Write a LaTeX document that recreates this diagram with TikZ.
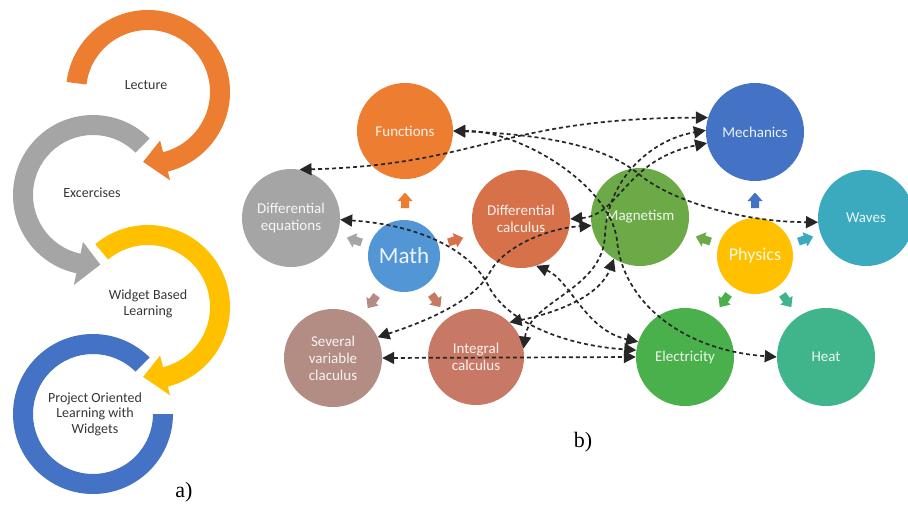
\documentclass[tikz,border=0pt]{standalone}
\usepackage{fontspec}
\setmainfont{Carlito}
\newfontfamily\panelfont{Liberation Serif}
\usetikzlibrary{arrows.meta,calc}

\definecolor{cOrange}{RGB}{237,125,49}
\definecolor{cGray}{RGB}{165,165,165}
\definecolor{cYellow}{RGB}{255,192,0}
\definecolor{cBlue}{RGB}{68,114,196}
\definecolor{cMath}{RGB}{83,150,214}
\definecolor{cDcal}{RGB}{214,113,74}
\definecolor{cSev}{RGB}{179,140,132}
\definecolor{cInt}{RGB}{200,121,102}
\definecolor{cMag}{RGB}{108,170,72}
\definecolor{cWav}{RGB}{60,170,190}
\definecolor{cEle}{RGB}{74,176,76}
\definecolor{cHeat}{RGB}{64,181,140}
\definecolor{cText}{RGB}{55,55,55}

\begin{document}
\begin{tikzpicture}[x=1pt,y=-1pt,
  topic/.style={circle, fill=#1, text=white, text opacity=.9, minimum size=98pt,
    inner sep=0pt, align=center, font=\fontsize{15}{17}\selectfont},
  hub/.style={circle, fill=#1, text=white, text opacity=.9, inner sep=0pt},
  link/.style={line width=1.7pt, dash pattern=on 4pt off 3pt, draw=black!85,
    {Triangle[length=12pt,width=12pt]}-{Triangle[length=12pt,width=12pt]}},
  steptext/.style={text=cText, align=center, font=\fontsize{14}{15.5}\selectfont},
  panel/.style={font=\panelfont\fontsize{22}{24}\selectfont},
  pics/hubarrow/.style={code={\fill[#1] (-4,8) -- (-4,1) -- (-7.5,1) -- (0,-7.5)
    -- (7.5,1) -- (4,1) -- (4,8) -- cycle;}}
]
\fill[white] (0,0) rectangle (908,507);
\useasboundingbox (0,0) rectangle (908,507);

% ---------- a) teaching cycle ----------
\coordinate (oc) at (148,92);
\coordinate (gc) at (93,195);
\coordinate (yc) at (148,307);
\coordinate (bc) at (93,414);

\fill[cOrange] ($(oc)+(-173:82)$) arc[start angle=-173, end angle=76, radius=82]
  -- ($(oc)+(76:91)$) -- ($(oc)+(94:70)$) -- ($(oc)+(76:50)$) -- ($(oc)+(76:62)$)
  arc[start angle=76, end angle=-173, radius=62] -- cycle;
\fill[cGray] ($(gc)+(-45:80)$) arc[start angle=-45, end angle=-258, radius=80]
  -- ($(gc)+(-258:92)$) -- ($(gc)+(-276:70)$) -- ($(gc)+(-258:48)$) -- ($(gc)+(-258:60)$)
  arc[start angle=-258, end angle=-45, radius=60] -- cycle;
\fill[cYellow] ($(yc)+(-130:82)$) arc[start angle=-130, end angle=76, radius=82]
  -- ($(yc)+(76:91)$) -- ($(yc)+(94:70)$) -- ($(yc)+(76:50)$) -- ($(yc)+(76:62)$)
  arc[start angle=76, end angle=-130, radius=62] -- cycle;
\fill[cBlue] ($(bc)+(0:80)$) arc[start angle=0, end angle=315, radius=80]
  -- ($(bc)+(315:60)$) arc[start angle=315, end angle=0, radius=60] -- cycle;

\node[steptext] (lec) at (146,85) {Lecture};
\node[steptext] (exc) at (92,193) {Excercises};
\node[steptext] (wbl) at (148,304) {Widget Based\\Learning};
\node[steptext] (pol) at (95,414) {Project Oriented\\Learning with\\Widgets};
\node[panel] (pa) at (184,492) {a)};

% ---------- b) concept map ----------
\node[topic=cOrange, minimum size=96pt] (fun) at (405,131) {Functions};
\node[topic=cGray] (deq) at (291,218) {Differential\\equations};
\node[hub=cMath, minimum size=72pt, font=\fontsize{23}{26}\selectfont] (math) at (404,256) {Math};
\node[topic=cDcal] (dcal) at (521,219) {Differential\\calculus};
\node[topic=cSev] (sev) at (333,358) {Several\\variable\\claculus};
\node[topic=cInt, minimum size=96pt] (intc) at (476,357) {Integral\\calculus};
\node[topic=cMag] (mag) at (640,217) {Magnetism};
\node[topic=cBlue] (mech) at (755,132) {Mechanics};
\node[topic=cWav, minimum size=96pt] (wav) at (866,218) {Waves};
\node[hub=cYellow, minimum size=76pt, font=\fontsize{18}{20}\selectfont] (phy) at (755,256) {Physics};
\node[topic=cEle] (ele) at (685,357) {Electricity};
\node[topic=cHeat] (heat) at (826,357) {Heat};
\node[panel] (pb) at (583,442) {b)};

% hub arrows
\pic at (405,200) {hubarrow=cOrange};
\pic[rotate=71.4] at (354,240) {hubarrow=cGray};
\pic[rotate=-72.5] at (456,240) {hubarrow=cDcal};
\pic[rotate=145.2] at (372,302) {hubarrow=cSev};
\pic[rotate=-144.5] at (436,301) {hubarrow=cInt};
\pic at (755,200) {hubarrow=cBlue};
\pic[rotate=71.3] at (703,239) {hubarrow=cMag};
\pic[rotate=-71.1] at (806,239) {hubarrow=cWav};
\pic[rotate=145.3] at (724,301) {hubarrow=cEle};
\pic[rotate=-144.9] at (787,301) {hubarrow=cHeat};

% dashed relations
\draw[link] (deq.80) .. controls (480,165) and (500,118) .. (mech.163);
\draw[link] (fun.0) .. controls (560,135) and (610,150) .. (640,175)
  .. controls (670,200) and (740,222) .. (wav.185);
\draw[link] (fun.0) .. controls (520,130) and (610,185) .. (617,240)
  .. controls (622,300) and (680,350) .. (heat.180);
\draw[link] (deq.-2) .. controls (420,225) and (470,250) .. (488,285)
  .. controls (505,320) and (560,345) .. (ele.172);
\draw[link] (sev.0) -- (ele.180);
\draw[link] (dcal.-72) .. controls (570,280) and (585,330) .. (ele.162);
\draw[link] (sev.25) .. controls (430,320) and (475,300) .. (490,272)
  .. controls (505,245) and (550,228) .. (mag.190);
\draw[link] (intc.46) .. controls (560,312) and (600,295) .. (mag.-122);
\draw[link] (intc.10) .. controls (530,300) and (603,290) .. (605,235)
  .. controls (607,180) and (650,140) .. (mech.178);
\draw[link] (dcal.0) .. controls (620,215) and (625,160) .. (mech.193);
\end{tikzpicture}
\end{document}
